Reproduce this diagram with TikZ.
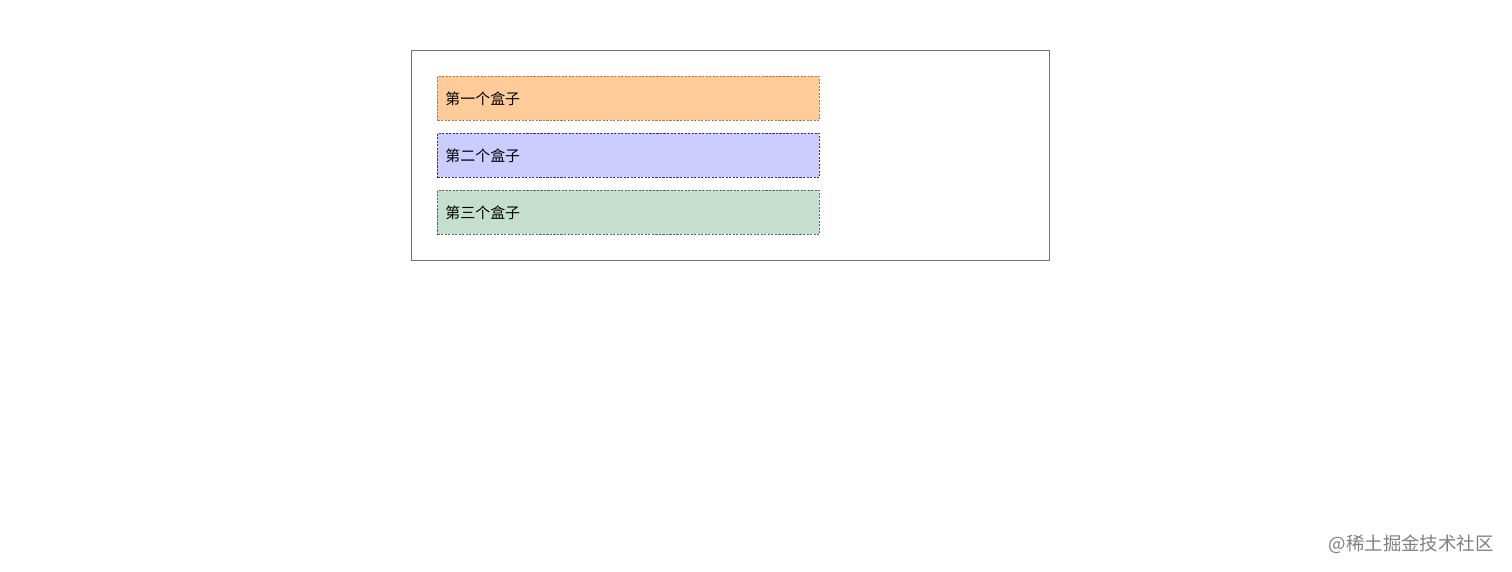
\documentclass[tikz,border=0pt]{standalone}
\usepackage{fontspec}
\usepackage{xcolor}
\setmainfont{Noto Sans CJK SC}
\definecolor{boxorange}{HTML}{FFCC99}
\definecolor{lineorange}{HTML}{B07A40}
\definecolor{boxblue}{HTML}{CCCCFF}
\definecolor{lineblue}{HTML}{30308A}
\definecolor{boxgreen}{HTML}{C5DFCE}
\definecolor{linegreen}{HTML}{556A5C}
\tikzset{outer/.style={draw=black!55, line width=0.45pt},
 itembox/.style={anchor=north west, minimum width=7.64cm, minimum height=0.88cm,
  text width=7.32cm, inner xsep=0.16cm, align=left, font=\fontsize{8.5pt}{10pt}\selectfont,
  line width=0.55pt, dash pattern=on 1.2pt off 0.8pt},
 mark label/.style={text=black!50, font=\fontsize{10.5pt}{12pt}\selectfont, anchor=east},
 }

\begin{document}
\begin{tikzpicture}
        \useasboundingbox (0, 0) rectangle (30.24, -11.44);
        \draw[outer] (8.22, -1.0) rectangle (20.98, -5.2);
        \foreach \txt/\fil/\lin[count=\i] in {第一个盒子/boxorange/lineorange, 第二个盒子/boxblue/lineblue, 第三个盒子/boxgreen/linegreen} {
            \node[itembox, fill=\fil, draw=\lin] (box\i) at (8.74, -1.52-1.14*\i+1.14) {\txt};
        }
        \node[mark label] (juejin) at (30.0, -10.88) {@稀土掘金技术社区};
    \end{tikzpicture}
\end{document}
